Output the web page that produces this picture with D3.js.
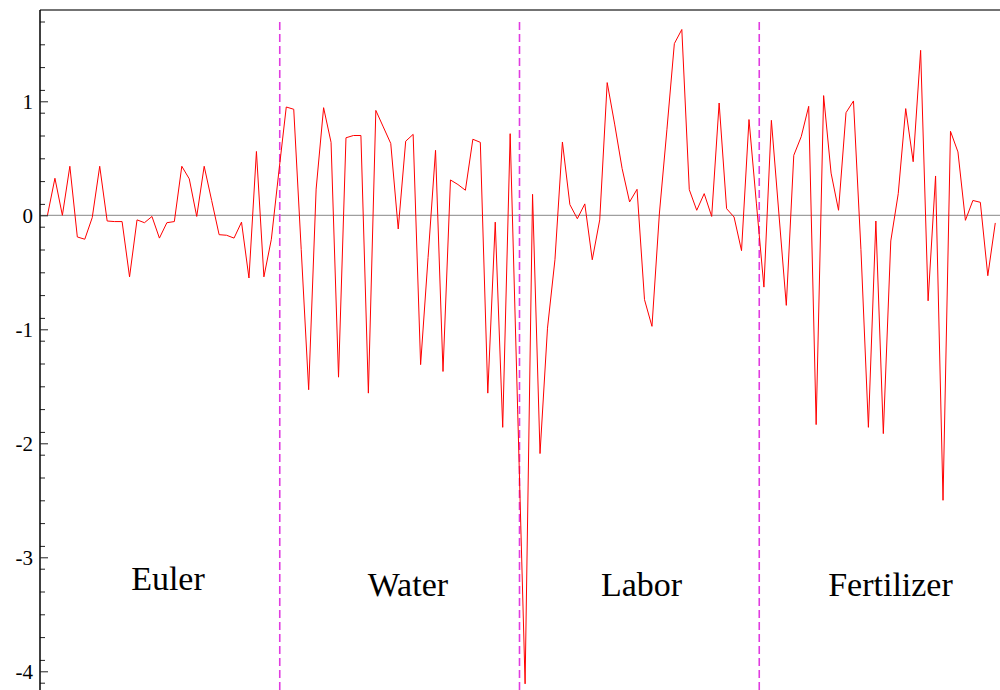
<!DOCTYPE html>
<html>
<head>
<meta charset="utf-8">
<script src="https://cdn.jsdelivr.net/npm/d3@7"></script>
<style>
  body { margin: 0; background: #fff; }
  svg { display: block; }
  .tick text { font-family: "Liberation Serif", "Times New Roman", serif; font-size: 21px; }
  text.section { font-family: "Liberation Serif", "Times New Roman", serif; font-size: 34px; }
</style>
</head>
<body>
<svg width="1000" height="690"></svg>
<script>
// one value per observation, four blocks of 32
var euler = [0, 0.325, 0, 0.43, -0.19, -0.21, -0.02, 0.43, -0.05, -0.055, -0.055, -0.54,
    -0.04, -0.065, -0.01, -0.2, -0.065, -0.055, 0.43, 0.32, -0.01, 0.43, 0.13, -0.17,
    -0.175, -0.2, -0.06, -0.55, 0.56, -0.54, -0.21, 0.38];
var water = [0.95, 0.93, -0.3, -1.53, 0.23, 0.944, 0.64, -1.42, 0.68, 0.70, 0.70, -1.56,
    0.92, 0.775, 0.63, -0.12, 0.65, 0.71, -1.31, -0.37, 0.57, -1.37, 0.31, 0.27,
    0.22, 0.667, 0.64, -1.56, -0.06, -1.86, 0.716, -1.7];
var labor = [-4.11, 0.184, -2.09, -0.99, -0.39, 0.643, 0.094, -0.03, 0.10, -0.39, -0.04, 1.164,
    0.8, 0.41, 0.117, 0.228, -0.74, -0.974, 0.02, 0.75, 1.506, 1.63, 0.225, 0.044,
    0.19, -0.01, 0.985, 0.058, -0.015, -0.31, 0.84, 0.1];
var fertilizer = [-0.63, 0.833, 0.02, -0.79, 0.526, 0.69, 0.956, -1.836, 1.05, 0.37, 0.044, 0.9,
    1.003, -0.3, -1.86, -0.05, -1.915, -0.225, 0.19, 0.936, 0.47, 1.447, -0.75, 0.345,
    -2.5, 0.737, 0.556, -0.044, 0.13, 0.114, -0.53, -0.067];

var sectionNames = ["Euler", "Water", "Labor", "Fertilizer"];
var sectionBreaks = [32.125, 64.25, 96.375];
var labelX = [17.15, 49.3, 80.6, 113.96];
var labelY = [-3.29, -3.34, -3.34, -3.34];

var yTicks = [-4, -3, -2, -1, 0, 1];
var yMinorTicks = d3.range(-41, 18, 2).map(function(d){ return d / 10; });

var values = euler.concat(water, labor, fertilizer);
var data = values.map(function(v, i){ return [i + 1, v]; });

var svg = d3.select("svg");

var x = d3.scaleLinear().domain([0, 128.5]).range([40, 999]);
var y = d3.scaleLinear().domain([-4.2, 1.8]).range([694.1, 10.1]);

// zero line
svg.append("line")
    .attr("x1", x(0)).attr("x2", 1000)
    .attr("y1", y(0)).attr("y2", y(0))
    .attr("stroke", "#888").attr("stroke-width", 1);

// section dividers
svg.selectAll("line.divider")
    .data(sectionBreaks)
  .enter().append("line")
    .attr("class", "divider")
    .attr("x1", function(d){ return x(d); })
    .attr("x2", function(d){ return x(d); })
    .attr("y1", 690)
    .attr("y2", y(1.72))
    .attr("stroke", "#e03ce0")
    .attr("stroke-width", 1.6)
    .attr("stroke-dasharray", "8,4");

// the series
var line = d3.line()
    .x(function(d){ return x(d[0]); })
    .y(function(d){ return y(d[1]); });

svg.append("path")
    .datum(data)
    .attr("d", line)
    .attr("fill", "none")
    .attr("stroke", "#ff0000")
    .attr("stroke-width", 1);

// top frame line
svg.append("line")
    .attr("x1", x(0)).attr("x2", 1000)
    .attr("y1", y(1.8)).attr("y2", y(1.8))
    .attr("stroke", "#444").attr("stroke-width", 1.5);

// y axis: minor ticks, then major ticks with labels
var minorAxis = d3.axisLeft(y)
    .tickValues(yMinorTicks)
    .tickSizeInner(-5)
    .tickSizeOuter(0)
    .tickFormat("");

svg.append("g")
    .attr("transform", "translate(" + x(0) + ",0)")
    .call(minorAxis)
    .call(function(g){ g.select(".domain").remove(); })
    .selectAll("line").attr("stroke", "#222");

var axis = d3.axisLeft(y)
    .tickValues(yTicks)
    .tickSizeInner(-8)
    .tickSizeOuter(0)
    .tickPadding(7)
    .tickFormat(function(d){ return String(d); });

var gy = svg.append("g")
    .attr("transform", "translate(" + x(0) + ",0)")
    .call(axis);

gy.select(".domain")
    .attr("d", "M0," + y(1.8) + "V690")
    .attr("stroke", "#000")
    .attr("stroke-width", 1.5);
gy.selectAll(".tick line").attr("stroke", "#222");
gy.selectAll(".tick text").attr("fill", "#000");

// section labels
svg.selectAll("text.section")
    .data(sectionNames)
  .enter().append("text")
    .attr("class", "section")
    .attr("x", function(d, i){ return x(labelX[i]); })
    .attr("y", function(d, i){ return y(labelY[i]); })
    .attr("text-anchor", "middle")
    .attr("fill", "#000")
    .text(function(d){ return d; });
</script>
</body>
</html>
